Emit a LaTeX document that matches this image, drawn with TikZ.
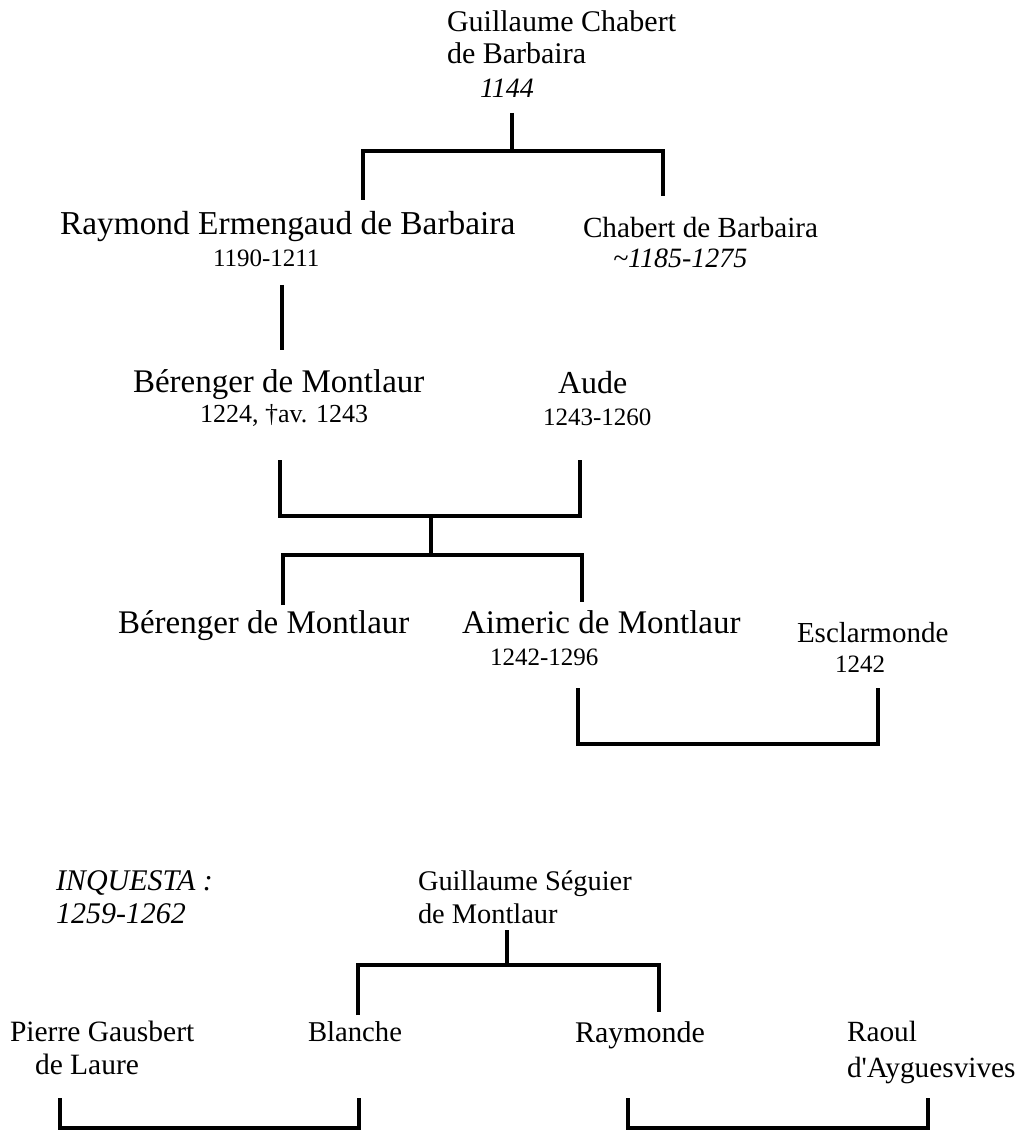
\documentclass[tikz,border=0pt]{standalone}
\usepackage{fontspec}
% Times-metric serif; no TeX mapping so the apostrophe stays straight
\newfontfamily\tnr{Liberation Serif}
\newcommand\fsz[1]{\fontsize{#1}{#1}\selectfont}
\begin{document}
\begin{tikzpicture}[x=1pt,y=-1pt,
  txt/.style={anchor=base west, inner sep=0pt, outer sep=0pt},
  link/.style={line width=4pt, line join=miter, line cap=butt}]
\useasboundingbox (0,0) rectangle (1024,1131);

% ---- people and dates ----
\node[txt, font=\tnr\fsz{30}] (gcb1) at (447,32) {Guillaume Chabert};
\node[txt, font=\tnr\fsz{30}] (gcb2) at (447,64) {de Barbaira};
\node[txt, font=\tnr\itshape\fsz{28}] (gcbd) at (480,98) {1144};

\node[txt, font=\tnr\fsz{33.4}] (rem) at (60,235) {Raymond Ermengaud de Barbaira};
\node[txt, font=\tnr\fsz{25}] (remd) at (213,267) {1190-1211};

\node[txt, font=\tnr\fsz{29.2}] (cdb) at (583,238) {Chabert de Barbaira};
\node[txt, font=\tnr\itshape\fsz{28}] (cdbd) at (613,268) {\string~1185-1275};

\node[txt, font=\tnr\fsz{33}] (bm) at (133,392) {Bérenger de Montlaur};
\node[txt, font=\tnr\fsz{26}] (bmd) at (200,422) {1224, †av. 1243};

\node[txt, font=\tnr\fsz{32}] (aude) at (558,393) {Aude};
\node[txt, font=\tnr\fsz{25}] (auded) at (543,425) {1243-1260};

\node[txt, font=\tnr\fsz{33}] (bm2) at (118,633) {Bérenger de Montlaur};
\node[txt, font=\tnr\fsz{33}] (am) at (462,633) {Aimeric de Montlaur};
\node[txt, font=\tnr\fsz{25}] (amd) at (490,665) {1242-1296};

\node[txt, font=\tnr\fsz{29}] (esc) at (797,642) {Esclarmonde};
\node[txt, font=\tnr\fsz{25}] (escd) at (835,672) {1242};

\node[txt, font=\tnr\itshape\fsz{30}] (inq) at (56,890) {INQUESTA :};
\node[txt, font=\tnr\itshape\fsz{30}] (inqd) at (56,923) {1259-1262};

\node[txt, font=\tnr\fsz{28.4}] (gsm1) at (418,890) {Guillaume Séguier};
\node[txt, font=\tnr\fsz{28.4}] (gsm2) at (418,923) {de Montlaur};

\node[txt, font=\tnr\fsz{29.5}] (pg1) at (10,1041) {Pierre Gausbert};
\node[txt, font=\tnr\fsz{29.5}] (pg2) at (35,1074) {de Laure};
\node[txt, font=\tnr\fsz{28.7}] (bl) at (308,1041) {Blanche};
\node[txt, font=\tnr\fsz{30}] (ray) at (575,1042) {Raymonde};
\node[txt, font=\tnr\fsz{29.3}] (ra1) at (847,1041) {Raoul};
\node[txt, font=\tnr\fsz{29.3}] (ra2) at (847,1077) {d'Ayguesvives};

% ---- connector points ----
\coordinate (t0) at (512,113);  \coordinate (t1) at (512,151);
\coordinate (tL) at (363,200);  \coordinate (tLb) at (363,151);
\coordinate (tRb) at (663,151); \coordinate (tR) at (663,196);

\coordinate (r0) at (282,285);  \coordinate (r1) at (282,350);

\coordinate (m1) at (280,460);  \coordinate (m2) at (280,516);
\coordinate (m3) at (580,516);  \coordinate (m4) at (580,460);
\coordinate (m5) at (431,516);  \coordinate (m6) at (431,555);
\coordinate (k1) at (283,605);  \coordinate (k2) at (283,555);
\coordinate (k3) at (582,555);  \coordinate (k4) at (582,602);

\coordinate (a1) at (578,688);  \coordinate (a2) at (578,744);
\coordinate (a3) at (878,744);  \coordinate (a4) at (878,688);

\coordinate (s0) at (507,930);  \coordinate (s1) at (507,965);
\coordinate (sL) at (358,1015); \coordinate (sLb) at (358,965);
\coordinate (sRb) at (659,965); \coordinate (sR) at (659,1012);

\coordinate (p1) at (60,1098);  \coordinate (p2) at (60,1128);
\coordinate (p3) at (359,1128); \coordinate (p4) at (359,1098);
\coordinate (q1) at (628,1098); \coordinate (q2) at (628,1128);
\coordinate (q3) at (928,1128); \coordinate (q4) at (928,1098);

% ---- lines of descent and marriage ----
\draw[link] (t0) -- (t1);
\draw[link] (tL) -- (tLb) -- (tRb) -- (tR);
\draw[link] (r0) -- (r1);
\draw[link] (m1) -- (m2) -- (m3) -- (m4);
\draw[link] (m5) -- (m6);
\draw[link] (k1) -- (k2) -- (k3) -- (k4);
\draw[link] (a1) -- (a2) -- (a3) -- (a4);
\draw[link] (s0) -- (s1);
\draw[link] (sL) -- (sLb) -- (sRb) -- (sR);
\draw[link] (p1) -- (p2) -- (p3) -- (p4);
\draw[link] (q1) -- (q2) -- (q3) -- (q4);
\end{tikzpicture}
\end{document}
